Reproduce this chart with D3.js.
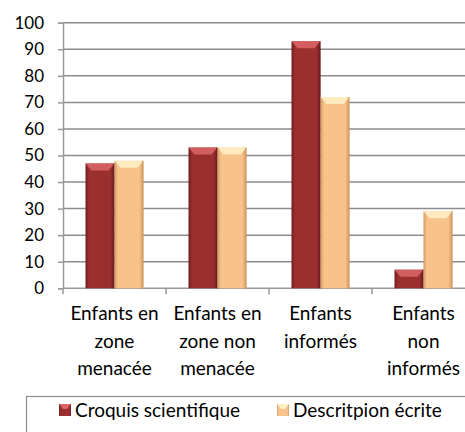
<!DOCTYPE html>
<html>
<head>
<meta charset="utf-8">
<script src="https://cdn.jsdelivr.net/npm/d3@7"></script>
<style>
  html, body { margin: 0; padding: 0; background: #fff; }
  svg { display: block; font-family: Lato, "Open Sans", sans-serif; }
</style>
</head>
<body>
<svg id="chart" width="465" height="432"></svg>
<script>
// Category labels (one array per wrapped line set)
const categories = [
  ["Enfants en", "zone", "menacée"],
  ["Enfants en", "zone non", "menacée"],
  ["Enfants", "informés"],
  ["Enfants", "non", "informés"]
];
const seriesNames = ["Croquis scientifique", "Descritpion écrite"];
const croquis = [47, 53, 93, 7];
const description = [48, 53, 72, 29];
const yTicks = [0, 10, 20, 30, 40, 50, 60, 70, 80, 90, 100];

const colors = {
  "Croquis scientifique": { base: "#9b2f30", light: "#d96466", dark: "#6e1c1e" },
  "Descritpion écrite": { base: "#f8c28b", light: "#fff0c4", dark: "#d39a62" }
};

const svg = d3.select("#chart");
const plotLeft = 63, plotRight = 475, plotTop = 22.7, plotBottom = 288.3;

const y = d3.scaleLinear().domain([0, 100]).range([plotBottom, plotTop]);
const catKeys = categories.map((c, i) => i);
const x0 = d3.scaleBand().domain(catKeys).range([plotLeft, plotRight]).padding(0);
const x1 = d3.scaleBand().domain(seriesNames).range([0, x0.bandwidth()])
  .paddingInner(0).paddingOuter(0.776);

// Gradients for bar bodies
const defs = svg.append("defs");
seriesNames.forEach((s, i) => {
  const g = defs.append("linearGradient").attr("id", "grad" + i)
    .attr("x1", 0).attr("x2", 1).attr("y1", 0).attr("y2", 0);
  g.append("stop").attr("offset", "0%").attr("stop-color", colors[s].dark);
  g.append("stop").attr("offset", "12%").attr("stop-color", colors[s].base);
  g.append("stop").attr("offset", "85%").attr("stop-color", colors[s].base);
  g.append("stop").attr("offset", "100%").attr("stop-color", colors[s].dark);
});

// Horizontal gridlines
svg.append("g")
  .selectAll("line")
  .data(yTicks.filter(t => t > 0))
  .join("line")
  .attr("x1", plotLeft).attr("x2", plotRight)
  .attr("y1", d => y(d)).attr("y2", d => y(d))
  .attr("stroke", "#8c8c8c").attr("stroke-width", 1.5);

// Y axis
const yAxis = svg.append("g")
  .attr("transform", `translate(${plotLeft},0)`)
  .call(d3.axisLeft(y).tickValues(yTicks).tickSize(5).tickPadding(14));
yAxis.select(".domain").attr("stroke", "#9a9a9a").attr("stroke-width", 1.5);
yAxis.selectAll(".tick line").attr("stroke", "#9a9a9a").attr("stroke-width", 1.5);
yAxis.selectAll(".tick text")
  .attr("font-family", "Lato, sans-serif")
  .attr("font-size", 17).attr("fill", "#000");

// X axis
const xAxis = svg.append("g")
  .attr("transform", `translate(0,${plotBottom})`);
xAxis.append("line").attr("x1", plotLeft).attr("x2", plotRight)
  .attr("stroke", "#9a9a9a").attr("stroke-width", 1.5);
xAxis.selectAll("line.tick")
  .data(catKeys)
  .join("line").attr("class", "tick")
  .attr("x1", d => x0(d)).attr("x2", d => x0(d))
  .attr("y1", 0).attr("y2", 6)
  .attr("stroke", "#9a9a9a").attr("stroke-width", 1.5);

const labels = xAxis.selectAll("text.cat")
  .data(categories)
  .join("text").attr("class", "cat")
  .attr("text-anchor", "middle")
  .attr("font-size", 19)
  .attr("fill", "#000");
labels.each(function(lines, i) {
  d3.select(this).selectAll("tspan")
    .data(lines)
    .join("tspan")
    .attr("x", x0(i) + x0.bandwidth() / 2)
    .attr("y", (d, j) => 32 + j * 27.5)
    .text(d => d);
});

// Bars
const rows = categories.map((c, i) => ({ i, values: [croquis[i], description[i]] }));
const groups = svg.append("g").selectAll("g")
  .data(rows)
  .join("g")
  .attr("transform", d => `translate(${x0(d.i)},0)`);

groups.each(function(row) {
  const g = d3.select(this);
  seriesNames.forEach((s, k) => {
    const v = row.values[k];
    const bx = x1(s), bw = x1.bandwidth();
    const by = y(v), bh = y(0) - y(v);
    g.append("rect")
      .attr("x", bx).attr("y", by).attr("width", bw).attr("height", bh)
      .attr("fill", `url(#grad${k})`);
    // Bevelled top face
    const bev = Math.min(7, bh);
    g.append("path")
      .attr("d", `M${bx},${by} L${bx + bw},${by} L${bx + bw - 6},${by + bev} L${bx + 6},${by + bev} Z`)
      .attr("fill", colors[s].light).attr("opacity", 0.9);
    // Right edge shadow
    g.append("rect")
      .attr("x", bx + bw - 1.5).attr("y", by).attr("width", 1.5).attr("height", bh)
      .attr("fill", colors[s].dark).attr("opacity", 0.6);
  });
});

// Legend
const legend = svg.append("g");
legend.append("rect")
  .attr("x", 26.5).attr("y", 396.5).attr("width", 460).attr("height", 60)
  .attr("fill", "#fff").attr("stroke", "#8c8c8c").attr("stroke-width", 1.2);
const legendX = [59, 277];
seriesNames.forEach((s, k) => {
  const lg = legend.append("g").attr("transform", `translate(${legendX[k]},404)`);
  lg.append("rect").attr("x", 0).attr("y", 0).attr("width", 12).attr("height", 12)
    .attr("fill", `url(#grad${k})`);
  lg.append("path").attr("d", "M0,0 L12,0 L8,5 L4,5 Z")
    .attr("fill", colors[s].light);
  lg.append("text").attr("x", 16).attr("y", 13)
    .attr("font-size", 19).attr("fill", "#000").text(s);
});
</script>
</body>
</html>
